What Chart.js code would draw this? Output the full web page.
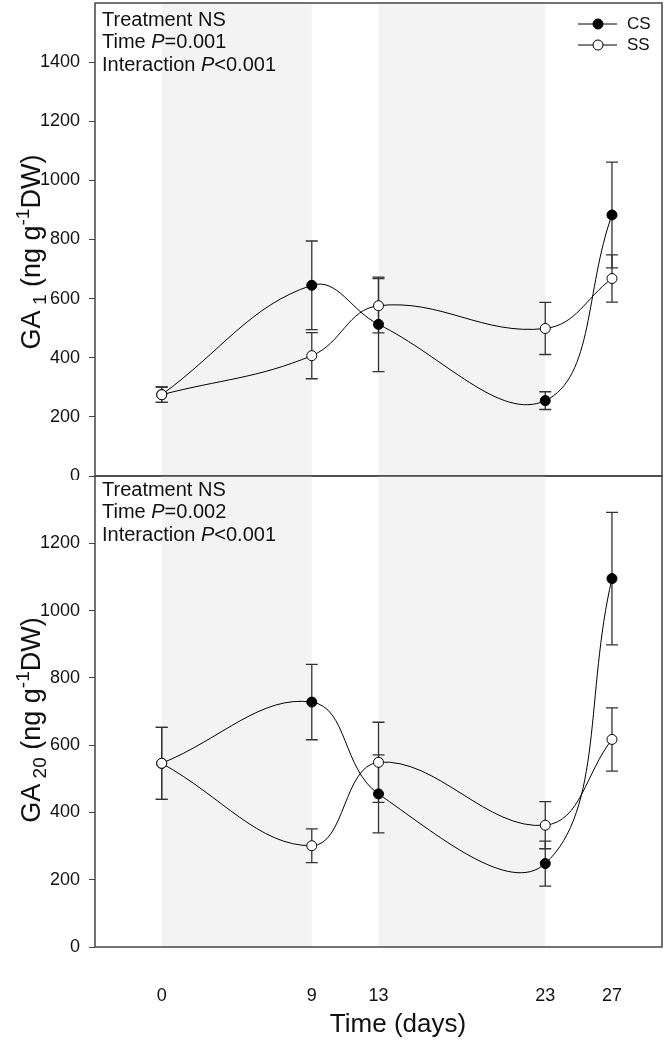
<!DOCTYPE html>
<html>
<head>
<meta charset="utf-8">
<script src="https://cdn.jsdelivr.net/npm/chart.js@4.4.1/dist/chart.umd.min.js"></script>
<style>
  body { margin: 0; background: #fff; }
  #wrap { position: relative; width: 665px; height: 1043px; }
  canvas { position: absolute; left: 0; }
</style>
</head>
<body>
<div id="wrap">
  <canvas id="ga1" width="665" height="480" style="top:0"></canvas>
  <canvas id="ga20" width="665" height="571" style="top:472px"></canvas>
</div>
<script>
// sampling days (x axis)
const days = [0, 9, 13, 23, 27]
const shadedSpans = [[0, 9], [13, 23]]
const seriesNames = ['CS', 'SS']

// GA1 panel (ng g-1 DW), mean and error
const ga1CS = [275, 645, 513, 255, 883]
const ga1CSErr = [26, 150, 160, 30, 179]
const ga1SS = [275, 407, 576, 499, 668]
const ga1SSErr = [26, 78, 92, 88, 80]

// GA20 panel
const ga20CS = [546, 728, 455, 248, 1095]
const ga20CSErr = [107, 112, 116, 67, 197]
const ga20SS = [546, 301, 549, 362, 617]
const ga20SSErr = [107, 50, 119, 70, 94]

const FONT = "'Liberation Sans', Arial, sans-serif"
const INK = '#111'

function drawRich(ctx, parts, x, y) {
  // parts: [text, size, italic, dy]
  let cx = x
  parts.forEach(([t, size, italic, dy]) => {
    ctx.font = (italic ? 'italic ' : '') + size + 'px ' + FONT
    ctx.fillText(t, cx, y + (dy || 0))
    cx += ctx.measureText(t).width
  })
  return cx - x
}

function richWidth(ctx, parts) {
  let w = 0
  parts.forEach(([t, size, italic]) => {
    ctx.font = (italic ? 'italic ' : '') + size + 'px ' + FONT
    w += ctx.measureText(t).width
  })
  return w
}

const panelPlugin = {
  id: 'panel',
  beforeDatasetsDraw(chart) {
    const { ctx, chartArea: a, scales } = chart
    const xs = scales.x, ys = scales.y
    ctx.save()
    ctx.fillStyle = '#f3f3f3'
    shadedSpans.forEach(([s, e]) => {
      const x0 = xs.getPixelForValue(s), x1 = xs.getPixelForValue(e)
      ctx.fillRect(x0, a.top, x1 - x0, a.bottom - a.top)
    })
    // error bars
    ctx.strokeStyle = '#333'
    ctx.lineWidth = 1.3
    chart.data.datasets.forEach(ds => {
      ds.data.forEach((p, i) => {
        const err = ds.errors[i]
        const x = xs.getPixelForValue(p.x)
        const yHi = ys.getPixelForValue(p.y + err)
        const yLo = ys.getPixelForValue(p.y - err)
        ctx.beginPath()
        ctx.moveTo(x, yHi); ctx.lineTo(x, yLo)
        ctx.moveTo(x - 6, yHi); ctx.lineTo(x + 6, yHi)
        ctx.moveTo(x - 6, yLo); ctx.lineTo(x + 6, yLo)
        ctx.stroke()
      })
    })
    ctx.restore()
  },
  afterDraw(chart, args, opts) {
    const { ctx, chartArea: a } = chart
    ctx.save()
    ctx.strokeStyle = '#444'
    ctx.lineWidth = 1.5
    ctx.strokeRect(a.left, a.top, a.right - a.left, a.bottom - a.top)

    ctx.fillStyle = INK
    ctx.textBaseline = 'middle'
    ctx.textAlign = 'left'
    opts.notes.forEach((parts, i) => {
      drawRich(ctx, parts, a.left + 7, a.top + opts.noteTop + i * 22.5)
    })

    if (opts.legend) {
      chart.data.datasets.forEach((ds, i) => {
        const y = 24 + i * 21
        ctx.strokeStyle = '#000'
        ctx.lineWidth = 1
        ctx.beginPath(); ctx.moveTo(578, y); ctx.lineTo(617, y); ctx.stroke()
        ctx.beginPath(); ctx.arc(598, y, 5, 0, Math.PI * 2)
        ctx.fillStyle = ds.pointBackgroundColor; ctx.fill(); ctx.stroke()
        ctx.fillStyle = INK
        ctx.font = '17px ' + FONT
        ctx.fillText(ds.label, 627, y)
      })
    }

    // rotated y title with subscript / superscript
    ctx.save()
    ctx.translate(31, opts.titleY)
    ctx.rotate(-Math.PI / 2)
    ctx.textBaseline = 'alphabetic'
    const w = richWidth(ctx, opts.yTitle)
    drawRich(ctx, opts.yTitle, -w / 2, 9)
    ctx.restore()

    if (opts.xTitle) {
      ctx.font = '26px ' + FONT
      ctx.textAlign = 'center'
      ctx.fillText(opts.xTitle, 398, a.bottom + 78)
    }
    ctx.restore()
  }
}

function series(vals, errs, name, fill, order) {
  return {
    label: name,
    data: days.map((d, i) => ({ x: d, y: vals[i] })),
    errors: errs,
    borderColor: '#000',
    borderWidth: 1,
    tension: 0.4,
    pointRadius: 5,
    pointHoverRadius: 5,
    pointBackgroundColor: fill,
    pointBorderColor: '#000',
    pointBorderWidth: 1,
    order: order
  }
}

function makePanel(id, cfg) {
  const showX = !!cfg.xTitle
  new Chart(document.getElementById(id), {
    type: 'line',
    data: {
      datasets: [
        series(cfg.cs, cfg.csErr, seriesNames[0], '#000', 1),
        series(cfg.ss, cfg.ssErr, seriesNames[1], '#fff', 0)
      ]
    },
    options: {
      responsive: false,
      animation: false,
      events: [],
      layout: {
        autoPadding: false,
        padding: { top: cfg.padTop, right: 3, bottom: showX ? 0 : 4, left: 0 }
      },
      plugins: {
        legend: { display: false },
        tooltip: { enabled: false },
        panel: {
          notes: cfg.notes,
          noteTop: cfg.noteTop,
          legend: cfg.legend,
          yTitle: cfg.yTitle,
          titleY: cfg.titleY,
          xTitle: cfg.xTitle
        }
      },
      scales: {
        x: {
          type: 'linear',
          min: -4,
          max: 30,
          display: showX,
          afterBuildTicks: s => { s.ticks = days.map(v => ({ value: v })) },
          afterFit: s => {
            s.height = showX ? 96 : 0
            s.paddingLeft = 0
            s.paddingRight = 0
          },
          grid: { display: false, drawTicks: false },
          border: { display: false },
          ticks: {
            autoSkip: false,
            maxRotation: 0,
            padding: 38,
            color: INK,
            font: { family: FONT, size: 18 },
            callback: v => String(v)
          }
        },
        y: {
          min: 0,
          max: cfg.yMax,
          afterFit: s => {
            s.width = 95
            s.paddingTop = 0
            s.paddingBottom = 0
          },
          border: { display: false },
          grid: {
            drawOnChartArea: false,
            drawTicks: true,
            tickLength: 6,
            lineWidth: 1,
            color: c => (c.tick && c.tick.value === cfg.yMax) ? 'rgba(0,0,0,0)' : '#444'
          },
          ticks: {
            stepSize: 200,
            padding: 9,
            color: INK,
            font: { family: FONT, size: 18 },
            callback: v => v === cfg.yMax ? '' : String(v)
          }
        }
      }
    },
    plugins: [panelPlugin]
  })
}

makePanel('ga1', {
  cs: ga1CS, csErr: ga1CSErr, ss: ga1SS, ssErr: ga1SSErr,
  yMax: 1600,
  padTop: 3,
  noteTop: 17,
  legend: true,
  titleY: 252,
  notes: [
    [['Treatment NS', 20]],
    [['Time ', 20], ['P', 20, true], ['=0.001', 20]],
    [['Interaction ', 20], ['P', 20, true], ['<0.001', 20]]
  ],
  yTitle: [['GA', 27], [' 1', 19, false, 6], [' (ng g', 27], ['-1', 19, false, -11], ['DW)', 27]]
})

makePanel('ga20', {
  cs: ga20CS, csErr: ga20CSErr, ss: ga20SS, ssErr: ga20SSErr,
  yMax: 1400,
  padTop: 4,
  noteTop: 14,
  legend: false,
  titleY: 248,
  notes: [
    [['Treatment NS', 20]],
    [['Time ', 20], ['P', 20, true], ['=0.002', 20]],
    [['Interaction ', 20], ['P', 20, true], ['<0.001', 20]]
  ],
  yTitle: [['GA', 27], [' 20', 19, false, 6], [' (ng g', 27], ['-1', 19, false, -11], ['DW)', 27]],
  xTitle: 'Time (days)'
})
</script>
</body>
</html>
